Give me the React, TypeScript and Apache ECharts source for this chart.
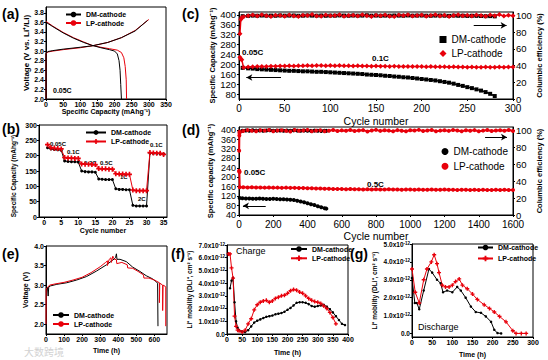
import { useEffect, useRef } from 'react';
import * as echarts from 'echarts';

// ---------- (a) charge / discharge profiles ----------
const A_CHG_CAP_DM = [0, 0, 5, 20, 50, 100, 135, 180, 220, 260, 296];
const A_CHG_V_DM = [2.0, 2.95, 2.99, 3.01, 3.04, 3.08, 3.11, 3.18, 3.28, 3.42, 3.64];
const A_CHG_CAP_LP = [0, 0, 5, 20, 50, 100, 135, 180, 220, 260, 300];
const A_CHG_V_LP = [2.0, 2.94, 2.98, 3.0, 3.03, 3.07, 3.11, 3.18, 3.28, 3.43, 3.66];
const A_DIS_CAP_DM = [0, 20, 50, 80, 110, 134, 160, 185, 200, 208, 213, 216, 218, 220];
const A_DIS_V_DM = [3.6, 3.51, 3.38, 3.27, 3.18, 3.12, 3.07, 3.03, 3.0, 2.94, 2.8, 2.6, 2.3, 2.0];
const A_DIS_CAP_LP = [0, 20, 50, 80, 110, 134, 160, 185, 208, 220, 227, 231, 234, 235];
const A_DIS_V_LP = [3.62, 3.52, 3.39, 3.28, 3.19, 3.12, 3.08, 3.05, 3.02, 2.97, 2.86, 2.68, 2.4, 2.0];
const A_YTICKS = [2.0, 2.2, 2.4, 2.6, 2.8, 3.0, 3.2, 3.4, 3.6, 3.8];

// ---------- (b) rate capability ----------
const B_CYC = [1, 2, 3, 4, 5, 6, 7, 8, 9, 10, 11, 12, 13, 14, 15, 16, 17, 18, 19, 20, 21, 22, 23, 24, 25, 26, 27, 28, 29, 30, 31, 32, 33, 34, 35];
const B_DM = [226, 222, 220, 219, 218, 183, 181, 180, 180, 179, 150, 148, 147, 147, 146, 124, 123, 122, 122, 122, 92, 90, 90, 89, 89, 38, 36, 36, 36, 36, 208, 207, 207, 206, 205];
const B_LP = [236, 226, 224, 223, 222, 194, 192, 192, 191, 191, 173, 172, 172, 171, 171, 158, 157, 157, 156, 156, 141, 140, 140, 139, 139, 88, 86, 86, 86, 86, 210, 209, 208, 208, 204];
const B_XTICKS = [0, 5, 10, 15, 20, 25, 30, 35];

// ---------- (c) cycling at 0.1C ----------
const C_CYC_DM = [4, 10, 15, 20, 25, 30, 35, 40, 45, 50, 55, 60, 65, 70, 75, 80, 85, 90, 95, 100, 105, 110, 115, 120, 125, 130, 135, 140, 145, 150, 155, 160, 165, 170, 175, 180, 185, 190, 195, 200, 205, 210, 215, 220, 225, 230, 235, 240, 245, 250, 255, 260, 265, 270, 275, 280];
const C_CAP_DM = [186, 184, 183, 181, 180, 179, 178, 177, 176, 175, 174, 174, 173, 172, 172, 171, 170, 170, 169, 168, 167, 166, 165, 164, 163, 162, 161, 159, 158, 157, 156, 154, 153, 151, 150, 148, 147, 145, 143, 141, 139, 137, 135, 132, 129, 126, 122, 117, 113, 108, 104, 99, 94, 88, 81, 72];
const C_CE_DM = [99.0, 99.4, 99.7, 99.5, 99.8, 99.6, 99.7, 99.5, 99.9, 99.6, 99.7, 99.8, 99.5, 99.6, 99.9, 99.7, 99.6, 99.8, 99.5, 99.7, 99.6, 99.9, 99.7, 99.5, 99.8, 99.6, 99.7, 100.1, 99.6, 99.8, 99.5, 99.7, 99.6, 99.8, 99.7, 99.5, 99.9, 99.6, 99.7, 99.8, 99.6, 99.5, 99.7, 99.8, 99.6, 99.4, 99.7, 99.5, 99.6, 99.3, 99.5, 99.4, 99.2, 99.0, 99.1, 98.8];
const C_CYC_LP = [1, 2, 3, 5, 10, 15, 20, 25, 30, 35, 40, 45, 50, 55, 60, 65, 70, 75, 80, 85, 90, 95, 100, 105, 110, 115, 120, 125, 130, 135, 140, 145, 150, 155, 160, 165, 170, 175, 180, 185, 190, 195, 200, 205, 210, 215, 220, 225, 230, 235, 240, 245, 250, 255, 260, 265, 270, 275, 280, 285, 290, 295, 300];
const C_CAP_LP = [229, 222, 219,
  187, 189, 190, 191, 192, 192, 193, 193, 194, 194,
  195, 194, 195, 195, 196, 195, 196, 196, 195, 196,
  195, 196, 195, 195, 194, 195, 194, 194, 193, 194,
  193, 193, 192, 193, 192, 192, 191, 192, 191, 191,
  190, 191, 190, 190, 190, 189, 190, 189, 189, 188,
  189, 188, 188, 189, 188, 188, 189, 188, 189, 189];
const C_CE_LP = [78, 95, 97.5,
  98.2, 99.6, 100.4, 99.1, 100.8, 99.4, 98.7, 100.2, 99.8, 99.0,
  100.5, 99.3, 98.6, 100.1, 99.7, 100.9, 99.2, 98.9, 100.3, 99.5,
  99.8, 100.6, 98.8, 99.9, 100.2, 99.1, 100.7, 99.4, 98.5, 100.0,
  99.6, 100.4, 99.0, 98.7, 100.3, 99.8, 100.8, 99.2, 99.9, 100.5,
  98.9, 99.7, 100.6, 99.3, 100.1, 98.6, 99.9, 100.7, 99.4, 100.2,
  99.1, 100.5, 99.8, 98.8, 100.3, 99.6, 100.9, 99.2, 100.0, 99.5];
const C_YL_TICKS = [80, 120, 160, 200, 240, 280, 320, 360, 400];
const CE_TICKS = [0, 20, 40, 60, 80, 100];

// ---------- (d) long cycling at 0.5C ----------
const D_CYC_DM = [4, 20, 40, 60, 80, 100, 120, 140, 160, 180, 200, 220, 240, 260, 280, 300, 320, 340, 360, 380, 400, 420, 440, 460, 480, 500, 510];
const D_CAP_DM = [112, 111, 110, 110, 109, 109, 110, 109, 108, 108, 109, 108, 107, 107, 106, 105, 104, 100, 97, 94, 90, 86, 82, 77, 73, 69, 67];
const D_CE_DM = [98.8, 99.5, 99.8, 99.6, 100.2, 99.7, 99.9, 99.5, 99.8, 100.1, 99.6, 99.7, 99.9, 99.5, 99.8, 99.6, 100.0, 99.7, 99.5, 99.8, 99.6, 99.4, 99.7, 99.5, 99.3, 99.6, 99.4];
const D_CYC_LP = [1, 2, 3, 4, 25, 50, 75, 100, 125, 150, 175, 200, 225, 250, 275, 300, 325, 350, 375, 400, 425, 450, 475, 500, 525, 550, 575, 600, 625, 650, 675, 700, 725, 750, 775, 800, 825, 850, 875, 900, 925, 950, 975, 1000, 1025, 1050, 1075, 1100, 1125, 1150, 1175, 1200, 1225, 1250, 1275, 1300, 1325, 1350, 1375, 1400, 1425, 1450, 1475, 1500, 1525, 1550, 1575, 1600];
const D_CAP_LP = [228, 224, 222, 158,
  158, 157, 158, 157, 157, 156, 157, 156, 156, 155, 156, 155,
  155, 154, 154, 153, 153, 152, 152, 151, 151, 150, 150, 150,
  149, 150, 149, 149, 148, 149, 148, 149, 148, 148, 149, 148,
  148, 147, 148, 148, 147, 148, 147, 147, 148, 147, 147, 148,
  147, 147, 146, 147, 147, 146, 147, 146, 147, 146, 146, 147,
  146, 147, 146, 146];
const D_CE_LP = [76, 94, 97, 98.5,
  99.2, 100.3, 99.6, 98.9, 100.1, 99.7, 100.5, 99.0, 99.8, 100.2, 99.4, 98.8,
  100.4, 99.5, 99.9, 100.6, 99.1, 99.7, 100.2, 98.9, 99.6, 100.4, 99.3, 100.0,
  99.6, 100.5, 99.2, 99.8, 100.3, 98.8, 99.9, 100.6, 99.4, 100.1, 99.7, 99.0,
  100.3, 99.5, 98.9, 100.2, 99.8, 100.6, 99.3, 99.9, 100.4, 99.1, 99.7, 100.2,
  99.4, 100.5, 99.8, 99.0, 100.1, 99.6, 100.3, 98.9, 99.7, 100.4, 99.2, 99.9,
  100.2, 99.6, 100.5, 99.3];
const D_YL_TICKS = [40, 80, 120, 160, 200, 240, 280, 320, 360, 400];

// ---------- (e) voltage vs time ----------
const E_T_DM = [0, 8, 12, 15, 25, 60, 115, 170, 225, 280, 335, 370, 385, 390, 393, 410, 445, 480, 520, 555, 590, 612, 618, 620];
const E_V_DM = [2.9, 2.95, 2.72, 2.95, 2.98, 3.02, 3.06, 3.13, 3.22, 3.36, 3.52, 3.64, 3.7, 3.8, 3.66, 3.66, 3.6, 3.46, 3.35, 3.24, 3.16, 3.08, 3.05, 1.95];
const E_T_LP = [0, 1, 10, 20, 50, 100, 150, 200, 250, 300, 330, 340, 340, 350, 360, 362, 370, 375, 380, 390, 392, 420, 450, 452, 480, 510, 540, 542, 570, 600, 620, 628, 628, 630, 646, 646, 648, 660, 663, 663];
const E_V_LP = [2.0, 2.9, 2.95, 3.0, 3.03, 3.07, 3.13, 3.2, 3.32, 3.47, 3.58, 3.62, 3.5, 3.66, 3.7, 3.58, 3.74, 3.68, 3.66, 3.65, 3.55, 3.58, 3.52, 3.44, 3.43, 3.35, 3.26, 3.18, 3.18, 3.13, 3.08, 3.06, 2.55, 3.05, 3.0, 2.35, 3.0, 2.97, 2.95, 1.95];
const E_XTICKS = [0, 100, 200, 300, 400, 500, 600];
const E_YTICKS = [2.0, 2.5, 3.0, 3.5, 4.0];

// ---------- (f) Li+ mobility, charge ----------
const F_T_DM = [10, 15, 20, 25, 30, 35, 40, 50, 60, 70, 80, 90, 100, 110, 120, 130, 140, 150, 160, 170, 180, 190, 200, 210, 220, 230, 240, 250, 260, 270, 280, 290, 300, 310, 320, 330, 340, 350, 360, 370, 380, 390];
const F_DM = [3.6, 4.2, 4.4, 2.5, 1.0, 0.5, 0.3, 0.2, 0.15, 0.3, 0.6, 0.9, 1.05, 1.15, 1.25, 1.35, 1.4, 1.45, 1.55, 1.6, 1.65, 1.75, 1.9, 2.05, 2.25, 2.45, 2.5, 2.5, 2.45, 2.35, 2.2, 2.15, 2.2, 2.25, 2.3, 2.15, 1.95, 1.7, 1.4, 1.1, 0.8, 0.7];
const F_T_LP = [5, 10, 15, 20, 25, 30, 35, 40, 50, 60, 70, 80, 90, 100, 110, 120, 130, 140, 150, 160, 170, 180, 190, 200, 210, 220, 230, 240, 250, 260, 270, 280, 290, 300, 310, 320, 330, 340, 350, 360];
const F_LP = [6.3, 6.3, 5.2, 4.4, 1.4, 0.6, 0.3, 0.25, 0.15, 0.3, 0.8, 1.2, 1.9, 2.3, 2.5, 2.6, 2.65, 2.5, 2.6, 2.8, 2.9, 3.0, 3.05, 3.2, 3.4, 3.5, 3.45, 3.3, 3.2, 3.0, 2.8, 2.65, 2.55, 2.5, 2.4, 2.2, 2.0, 1.7, 1.3, 0.8];

// ---------- (g) Li+ mobility, discharge ----------
const G_T_DM = [0, 7, 12, 18, 29, 42, 50, 62, 71, 77, 87, 100, 112, 121, 133, 146, 158, 171, 183, 196, 204, 212, 221];
const G_DM = [3.1, 1.7, 1.7, 1.35, 2.4, 3.6, 3.4, 3.0, 2.8, 2.3, 2.4, 2.3, 2.6, 2.4, 2.0, 1.5, 1.2, 1.15, 0.95, 0.65, 0.2, 0.02, 0.0];
const G_T_LP = [0, 8, 18, 29, 37, 48, 55, 62, 67, 75, 83, 92, 100, 108, 117, 125, 137, 150, 162, 179, 192, 204, 217, 233, 250, 258, 271, 283];
const G_LP = [3.6, 2.3, 1.7, 3.0, 3.6, 4.0, 4.4, 3.9, 3.4, 2.7, 2.6, 2.6, 2.7, 2.9, 3.05, 2.7, 2.5, 2.2, 1.9, 1.6, 1.4, 1.2, 0.95, 0.65, 0.15, 0.0, 0.0, 0.0];
const G_YTICKS = [0, 1, 2, 3, 4, 5];

const zip = (xs: number[], ys: number[]) => xs.map((x, i) => [x, ys[i]]);

const F = '"Liberation Sans", Arial, sans-serif';
const BLACK = '#000';
const RED = '#e8000b';
const PLUS = 'path://M2,0h2v2h2v2h-2v2h-2v-2h-2v-2h2z';

const axLine = { show: true, onZero: false, lineStyle: { color: BLACK, width: 1 } };
const tick = { show: true, length: 2, lineStyle: { color: BLACK } };
const plain = (v: number) => String(v);
const lblS = { color: BLACK, fontSize: 7, fontWeight: 'bold', fontFamily: F, margin: 2, formatter: plain };
const lblB = { color: BLACK, fontSize: 9.5, fontFamily: F, margin: 3, formatter: plain };
const lblBX = { ...lblB, fontSize: 10, margin: 4.5 };
const nameS = { color: BLACK, fontSize: 7, fontWeight: 'bold', fontFamily: F };
const nameB = { color: BLACK, fontSize: 7.5, fontWeight: 'bold', fontFamily: F };
const nameX = { color: BLACK, fontSize: 10.5, fontFamily: F };

const base = { type: 'value', axisLine: axLine, splitLine: { show: false }, nameLocation: 'middle' };

const sci = (v: number) => (v === 0 ? '0.0' : `${v.toFixed(1)}x10{s|-12}`);
const sciRich = { s: { fontSize: 4.5, fontWeight: 'bold', color: BLACK, fontFamily: F, verticalAlign: 'top', lineHeight: 6, padding: [0, 0, 2, 0] } };

const grid = (left: number, top: number, width: number, height: number) => ({
  left, top, width, height, show: true, borderColor: BLACK, borderWidth: 1, backgroundColor: 'transparent',
});

const line = (name: string, xi: number, yi: number, data: number[][], color: string, extra: any = {}) => ({
  type: 'line', name, xAxisIndex: xi, yAxisIndex: yi, data, symbol: 'none',
  lineStyle: { color, width: 1 }, itemStyle: { color }, ...extra,
});

const arrow = (from: number[], to: number[]) => ({
  silent: true, symbol: ['none', 'arrow'], symbolSize: [5, 6],
  lineStyle: { color: BLACK, width: 1, type: 'solid' }, label: { show: false },
  emphasis: { disabled: true },
  data: [[{ coord: from }, { coord: to }]],
});

const legend = (names: any[], left: number, top: number, iw: number, ih: number, gap: number, txt: any) => ({
  data: names, left, top, orient: 'vertical', itemWidth: iw, itemHeight: ih, itemGap: gap, padding: 0,
  selectedMode: false, formatter: (n: string) => n.slice(2), textStyle: { color: BLACK, fontFamily: F, ...txt },
});

const txt = (text: string, x: number, y: number, font: string, fill = BLACK) => ({
  type: 'text', x, y, silent: true, style: { text, font, fill, verticalAlign: 'middle' },
});

const MOB = 'Li⁺ mobility (DLi⁺, cm² s⁻¹)';

const option: any = {
  animation: false,
  backgroundColor: '#fff',
  grid: [
    grid(46, 7, 120, 92),
    grid(39, 125, 128, 92),
    grid(239, 12, 274, 87),
    grid(239, 127, 274, 88),
    grid(46, 246, 121, 88),
    grid(227, 245, 121, 89),
    grid(412, 244, 121, 93),
  ],
  xAxis: [
    { ...base, gridIndex: 0, min: 0, max: 350, interval: 50, axisTick: tick, axisLabel: { ...lblS, margin: 1.5 }, name: 'Specific Capacity (mAhg⁻¹)', nameGap: 8, nameTextStyle: nameS },
    { ...base, gridIndex: 1, min: -1.5, max: 36, axisTick: { ...tick, customValues: B_XTICKS }, axisLabel: { ...lblS, customValues: B_XTICKS }, name: 'Cycle number', nameGap: 9.5, nameTextStyle: nameS },
    { ...base, gridIndex: 2, min: 0, max: 300, interval: 50, axisTick: tick, axisLabel: lblBX, name: 'Cycle number', nameGap: 16, nameTextStyle: nameX },
    { ...base, gridIndex: 3, min: 0, max: 1600, interval: 200, axisTick: tick, axisLabel: lblBX, name: 'Cycle number', nameGap: 13, nameTextStyle: nameX },
    { ...base, gridIndex: 4, min: 0, max: 670, axisTick: { ...tick, customValues: E_XTICKS }, axisLabel: { ...lblS, customValues: E_XTICKS }, name: 'Time (h)', nameGap: 12.5, nameTextStyle: nameS },
    { ...base, gridIndex: 5, min: 0, max: 400, interval: 50, axisTick: tick, axisLabel: lblS, name: 'Time (h)', nameGap: 14.5, nameTextStyle: nameS },
    { ...base, gridIndex: 6, min: 0, max: 300, interval: 50, axisTick: tick, axisLabel: lblS, name: 'Time (h)', nameGap: 14, nameTextStyle: nameS },
  ],
  yAxis: [
    { ...base, gridIndex: 0, min: 2.0, max: 3.92, axisTick: { ...tick, customValues: A_YTICKS }, axisLabel: { ...lblS, customValues: A_YTICKS, formatter: (v: number) => v.toFixed(1) }, name: 'Voltage (V vs. Li⁺/Li)', nameGap: 15, nameTextStyle: { ...nameS, fontSize: 8 } },
    { ...base, gridIndex: 1, min: 0, max: 300, interval: 50, axisTick: tick, axisLabel: lblS, name: 'Specific Capacity (mAhg⁻¹)', nameGap: 22, nameTextStyle: { ...nameS, fontSize: 6.5, padding: [0, 10, 0, 0] } },
    { ...base, gridIndex: 2, min: 60, max: 412, axisTick: { ...tick, customValues: C_YL_TICKS }, axisLabel: { ...lblB, customValues: C_YL_TICKS }, name: 'Specific Capacity (mAhg⁻¹)', nameGap: 23, nameTextStyle: nameB },
    { ...base, gridIndex: 2, position: 'right', min: 0, max: 104, axisTick: { ...tick, customValues: CE_TICKS }, axisLabel: { ...lblB, customValues: CE_TICKS }, name: 'Columbic efficiency (%)', nameGap: 21, nameTextStyle: nameB },
    { ...base, gridIndex: 3, min: 40, max: 413, axisTick: { ...tick, customValues: D_YL_TICKS }, axisLabel: { ...lblB, fontSize: 9, customValues: D_YL_TICKS }, name: 'Specific capacity (mAhg⁻¹)', nameGap: 25, nameTextStyle: nameB },
    { ...base, gridIndex: 3, position: 'right', min: 0, max: 104, axisTick: { ...tick, customValues: CE_TICKS }, axisLabel: { ...lblB, customValues: CE_TICKS }, name: 'Columbic efficiency (%)', nameGap: 20, nameTextStyle: nameB },
    { ...base, gridIndex: 4, min: 1.75, max: 4.0, axisTick: { ...tick, customValues: E_YTICKS }, axisLabel: { ...lblS, customValues: E_YTICKS, formatter: (v: number) => v.toFixed(1) }, name: 'Voltage (V)', nameGap: 17.5, nameTextStyle: nameS },
    { ...base, gridIndex: 5, min: 0, max: 7, interval: 1, axisTick: tick, axisLabel: { ...lblS, fontSize: 6.5, lineHeight: 7, formatter: sci, rich: sciRich }, name: MOB, nameGap: 34, nameTextStyle: { ...nameS, fontSize: 6.5 } },
    { ...base, gridIndex: 6, min: -0.2, max: 5, axisTick: { ...tick, customValues: G_YTICKS }, axisLabel: { ...lblS, fontSize: 6.5, lineHeight: 7, customValues: G_YTICKS, formatter: sci, rich: sciRich }, name: MOB, nameGap: 34.5, nameTextStyle: { ...nameS, fontSize: 6.5 } },
  ],
  legend: [
    legend(['a:DM-cathode', 'a:LP-cathode'], 65, 11, 15, 7, 1.5, { fontSize: 7, fontWeight: 'bold', lineHeight: 7 }),
    legend(['b:DM-cathode', 'b:LP-cathode'], 85, 129, 20, 6, 2, { fontSize: 7, fontWeight: 'bold', lineHeight: 6 }),
    legend([{ name: 'c:DM-cathode', icon: 'rect' }, { name: 'c:LP-cathode', icon: 'diamond' }], 439.5, 34.5, 7, 7, 4, { fontSize: 10, lineHeight: 7 }),
    legend([{ name: 'd:DM-cathode', icon: 'circle' }, { name: 'd:LP-cathode', icon: 'circle' }], 441.5, 146.5, 7, 7, 4.7, { fontSize: 10, lineHeight: 7 }),
    legend(['e:DM-cathode', 'e:LP-cathode'], 52, 311.5, 16, 7, 2, { fontSize: 7, fontWeight: 'bold', lineHeight: 7 }),
    legend(['f:DM-cathode', 'f:LP-cathode'], 290, 245.5, 16, 7, 2.3, { fontSize: 7, fontWeight: 'bold', lineHeight: 7 }),
    legend(['g:DM-cathode', 'g:LP-cathode'], 477, 244, 15, 7, 4, { fontSize: 7, fontWeight: 'bold', lineHeight: 7 }),
  ],
  series: [
    // (a)
    line('a:LP-cathode', 0, 0, zip(A_CHG_CAP_LP, A_CHG_V_LP), RED),
    line('a:LP-cathode', 0, 0, zip(A_DIS_CAP_LP, A_DIS_V_LP), RED),
    line('a:DM-cathode', 0, 0, zip(A_CHG_CAP_DM, A_CHG_V_DM), BLACK),
    line('a:DM-cathode', 0, 0, zip(A_DIS_CAP_DM, A_DIS_V_DM), BLACK),
    // (b)
    line('b:DM-cathode', 1, 1, zip(B_CYC, B_DM), BLACK, { symbol: 'circle', symbolSize: 3 }),
    line('b:LP-cathode', 1, 1, zip(B_CYC, B_LP), RED, { symbol: PLUS, symbolSize: 5 }),
    // (c)
    line('c:DM-cathode', 2, 2, zip(C_CYC_DM, C_CAP_DM), BLACK, { symbol: 'rect', symbolSize: 4, lineStyle: { color: BLACK, width: 1.5 }, markLine: arrow([46, 147], [8, 147]) }),
    line('c:DM-cathode', 2, 3, zip(C_CYC_DM, C_CE_DM), BLACK, { symbol: 'rect', symbolSize: 4, lineStyle: { color: BLACK, width: 1.5 }, markLine: arrow([257, 88], [293, 88]) }),
    line('c:LP-cathode', 2, 2, zip(C_CYC_LP, C_CAP_LP), RED, { symbol: 'diamond', symbolSize: 5, lineStyle: { color: RED, width: 1.5 } }),
    line('c:LP-cathode', 2, 3, zip(C_CYC_LP, C_CE_LP), RED, { symbol: 'diamond', symbolSize: 5, lineStyle: { color: RED, width: 1.5 } }),
    // (d)
    line('d:DM-cathode', 3, 4, zip(D_CYC_DM, D_CAP_DM), BLACK, { symbol: 'circle', symbolSize: 4, lineStyle: { color: BLACK, width: 2 }, markLine: arrow([156, 79], [23, 79]) }),
    line('d:DM-cathode', 3, 5, zip(D_CYC_DM, D_CE_DM), BLACK, { symbol: 'circle', symbolSize: 4, lineStyle: { color: BLACK, width: 2 }, markLine: arrow([1437, 92], [1565, 92]) }),
    line('d:LP-cathode', 3, 4, zip(D_CYC_LP, D_CAP_LP), RED, { symbol: 'circle', symbolSize: 4, lineStyle: { color: RED, width: 2 } }),
    line('d:LP-cathode', 3, 5, zip(D_CYC_LP, D_CE_LP), RED, { symbol: 'circle', symbolSize: 4, lineStyle: { color: RED, width: 2 } }),
    // (e)
    line('e:DM-cathode', 4, 6, zip(E_T_DM, E_V_DM), BLACK),
    line('e:LP-cathode', 4, 6, zip(E_T_LP, E_V_LP), RED),
    // (f)
    line('f:DM-cathode', 5, 7, zip(F_T_DM, F_DM), BLACK, { symbol: 'circle', symbolSize: 2.5 }),
    line('f:LP-cathode', 5, 7, zip(F_T_LP, F_LP), RED, { symbol: PLUS, symbolSize: 4 }),
    // (g)
    line('g:DM-cathode', 6, 8, zip(G_T_DM, G_DM), BLACK, { symbol: 'circle', symbolSize: 2.5 }),
    line('g:LP-cathode', 6, 8, zip(G_T_LP, G_LP), RED, { symbol: PLUS, symbolSize: 4 }),
  ],
  graphic: [
    txt('(a)', 2, 14, `bold 14px ${F}`),
    txt('(b)', 2, 129, `bold 14px ${F}`),
    txt('(c)', 182, 14, `bold 14px ${F}`),
    txt('(d)', 182, 130, `bold 14px ${F}`),
    txt('(e)', 2, 254, `bold 14px ${F}`),
    txt('(f)', 171, 254, `bold 14px ${F}`),
    txt('(g)', 350, 254, `bold 14px ${F}`),
    txt('0.05C', 53, 90, `bold 7px ${F}`),
    txt('0.05C', 50, 144, `bold 6px ${F}`),
    txt('0.1C', 67, 152, `bold 6px ${F}`),
    txt('0.2C', 84, 163, `bold 6px ${F}`),
    txt('0.5C', 100, 163, `bold 6px ${F}`),
    txt('1C', 120, 177, `bold 6px ${F}`),
    txt('2C', 138, 199, `bold 6px ${F}`),
    txt('0.1C', 150, 145, `bold 6px ${F}`),
    txt('0.05C', 242, 52, `bold 8px ${F}`),
    txt('0.1C', 372, 58, `bold 8px ${F}`),
    txt('0.05C', 244, 172, `bold 8px ${F}`),
    txt('0.5C', 367, 184, `bold 8px ${F}`),
    txt('Charge', 236, 251, `9px ${F}`),
    txt('Discharge', 418, 327, `9px ${F}`),
    txt('大数跨境', 24, 351, `10px "Noto Sans CJK SC", sans-serif`, '#d2d2d2'),
  ],
};

export default function App() {
  const ref = useRef<HTMLDivElement>(null);
  useEffect(() => {
    const chart = echarts.init(ref.current as HTMLDivElement, null, { renderer: 'svg' });
    chart.setOption(option);
    return () => chart.dispose();
  }, []);
  return (
    <div
      ref={ref}
      style={{ position: 'fixed', left: 0, top: 0, width: 548, height: 360, background: '#fff' }}
    />
  );
}
